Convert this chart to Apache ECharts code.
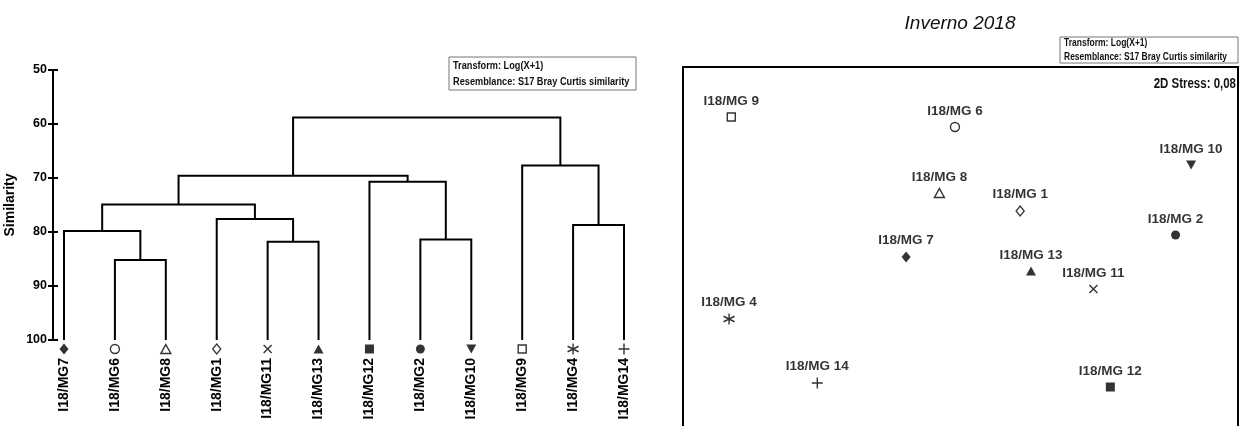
<!DOCTYPE html>
<html>
<head>
<meta charset="utf-8">
<script src="https://cdn.jsdelivr.net/npm/echarts@6/dist/echarts.min.js"></script>
<style>
  html, body { margin: 0; padding: 0; background: #fff; }
  #chart { width: 1239px; height: 426px; }
</style>
</head>
<body>
<div id="chart"></div>
<script>
// ---- Cluster dendrogram (group average, Bray-Curtis similarity) ----
const leafNames = ['I18/MG7', 'I18/MG6', 'I18/MG8', 'I18/MG1', 'I18/MG11', 'I18/MG13',
                   'I18/MG12', 'I18/MG2', 'I18/MG10', 'I18/MG9', 'I18/MG4', 'I18/MG14'];
const leafSamples = ['MG7', 'MG6', 'MG8', 'MG1', 'MG11', 'MG13', 'MG12', 'MG2', 'MG10', 'MG9', 'MG4', 'MG14'];
// node ids: 0..11 leaves, 12.. merged clusters in the order below
const mergeLeft  = [1, 0, 4, 3, 13, 7, 6, 16, 10, 9, 19];
const mergeRight = [2, 12, 5, 14, 15, 8, 17, 18, 11, 20, 21];
const mergeSimilarity = [85.2, 79.8, 81.8, 77.6, 74.9, 81.4, 70.7, 69.6, 78.7, 67.7, 58.8];
const similarityTicks = [50, 60, 70, 80, 90, 100];

// ---- nMDS ordination (2D) ----
const mdsLabels  = ['I18/MG 9', 'I18/MG 6', 'I18/MG 10', 'I18/MG 8', 'I18/MG 1', 'I18/MG 2',
                    'I18/MG 7', 'I18/MG 13', 'I18/MG 11', 'I18/MG 4', 'I18/MG 14', 'I18/MG 12'];
const mdsSamples = ['MG9', 'MG6', 'MG10', 'MG8', 'MG1', 'MG2', 'MG7', 'MG13', 'MG11', 'MG4', 'MG14', 'MG12'];
const mdsX = [-0.826, -0.020, 0.831, -0.076, 0.215, 0.775, -0.196, 0.254, 0.479, -0.834, -0.516, 0.540];
const mdsY = [0.750, 0.700, 0.510, 0.370, 0.280, 0.160, 0.050, -0.020, -0.110, -0.260, -0.580, -0.600];

const titleText = 'Inverno 2018';
const stressText = '2D Stress: 0,08';
const infoLines = ['Transform: Log(X+1)', 'Resemblance: S17 Bray Curtis similarity'];

// ---- marker styles per sample ----
const FONT = "'Liberation Sans', Arial, sans-serif";
const P_CROSS = 'path://M0,0L10,10M10,0L0,10';
const P_PLUS = 'path://M5,0L5,10M0,5L10,5';
const P_STAR = 'path://M5,0L5,10M0.67,2.5L9.33,7.5M0.67,7.5L9.33,2.5';
const filled = { color: '#000', borderColor: '#000', borderWidth: 0 };
const open = { color: '#fff', borderColor: '#000', borderWidth: 1.4 };
const stroke = { color: 'rgba(0,0,0,0)', borderColor: '#000', borderWidth: 1.4 };
const markerStyle = {
  MG1:  { symbol: 'diamond', size: [8, 10], style: open },
  MG2:  { symbol: 'circle', size: 9, style: filled },
  MG4:  { symbol: P_STAR, size: 11, style: stroke },
  MG6:  { symbol: 'circle', size: 9, style: open },
  MG7:  { symbol: 'diamond', size: [9, 11], style: filled },
  MG8:  { symbol: 'triangle', size: [10, 9], style: open },
  MG9:  { symbol: 'rect', size: 8, style: open },
  MG10: { symbol: 'triangle', size: [10, 9], style: filled, rotate: 180 },
  MG11: { symbol: P_CROSS, size: 8, style: stroke },
  MG12: { symbol: 'rect', size: 9, style: filled },
  MG13: { symbol: 'triangle', size: [10, 9], style: filled },
  MG14: { symbol: P_PLUS, size: 11, style: stroke }
};

// ---- dendrogram geometry from the merge table ----
const nodeX = leafNames.map((_, i) => i);
const nodeH = leafNames.map(() => 100);
const branches = [];
mergeLeft.forEach((l, k) => {
  const r = mergeRight[k];
  const h = mergeSimilarity[k];
  branches.push({ coords: [[nodeX[l], nodeH[l]], [nodeX[l], h], [nodeX[r], h], [nodeX[r], nodeH[r]]] });
  nodeX.push((nodeX[l] + nodeX[r]) / 2);
  nodeH.push(h);
});

function pointItem(sample, value) {
  const m = markerStyle[sample];
  return {
    value: value,
    symbol: m.symbol,
    symbolSize: m.size,
    symbolRotate: m.rotate || 0,
    itemStyle: m.style
  };
}

const leafMarkers = leafSamples.map((s, i) => pointItem(s, [i, 100]));
const mdsPoints = mdsSamples.map((s, i) => {
  const it = pointItem(s, [mdsX[i], mdsY[i]]);
  it.name = mdsLabels[i];
  return it;
});

// boxed note with the transformation / resemblance settings
function infoBox(x, y, w, h, fontSize, firstY, lineGap, squeeze) {
  const line = (txt, cy) => ({
    type: 'text', x: 4, y: cy, scaleX: squeeze,
    style: { text: txt, fill: '#111', font: 'bold ' + fontSize + 'px ' + FONT,
             align: 'left', verticalAlign: 'middle' }
  });
  return {
    type: 'group', x: x, y: y,
    children: [
      { type: 'rect', shape: { x: 0, y: 0, width: w, height: h },
        style: { fill: '#fff', stroke: '#777', lineWidth: 1 } },
      line(infoLines[0], firstY),
      line(infoLines[1], firstY + lineGap)
    ]
  };
}

const axisBase = {
  type: 'value', gridIndex: 0, position: 'left', inverse: true,
  min: 50, max: 100, interval: 10, offset: 11,
  splitLine: { show: false },
  axisLine: { show: true, onZero: false, lineStyle: { color: '#000', width: 2 } }
};

const option = {
  animation: false,
  backgroundColor: '#fff',
  grid: [
    { left: 64, top: 70, width: 560, height: 270, outerBoundsMode: 'none', containLabel: false },
    { left: 683, top: 67, width: 555, height: 400, outerBoundsMode: 'none', containLabel: false,
      show: true, borderColor: '#000', borderWidth: 2, backgroundColor: 'transparent' }
  ],
  xAxis: [
    { type: 'value', gridIndex: 0, min: 0, max: 11, show: false },
    { type: 'category', gridIndex: 0, position: 'bottom', boundaryGap: false, data: leafNames,
      axisLine: { show: false, onZero: false }, axisTick: { show: false },
      axisLabel: { interval: 0, rotate: 90, margin: 18, color: '#000',
                   fontFamily: FONT, fontWeight: 'bold', fontSize: 14 } },
    { type: 'value', gridIndex: 1, min: -1, max: 1, show: false }
  ],
  yAxis: [
    Object.assign({}, axisBase, {
      name: 'Similarity', nameLocation: 'middle', nameRotate: 90, nameGap: 36,
      nameTextStyle: { color: '#000', fontFamily: FONT, fontWeight: 'bold', fontSize: 14 },
      axisTick: { show: true, length: 5, lineStyle: { color: '#000', width: 2 } },
      axisLabel: { margin: 6, color: '#000', fontFamily: FONT, fontWeight: 'bold', fontSize: 12.5,
                   formatter: v => similarityTicks.includes(v) ? String(v) : '' }
    }),
    Object.assign({}, axisBase, {
      axisTick: { show: true, inside: true, length: 5, lineStyle: { color: '#000', width: 2 } },
      axisLabel: { show: false }
    }),
    { type: 'value', gridIndex: 1, min: -1, max: 1, show: false }
  ],
  series: [
    { type: 'lines', coordinateSystem: 'cartesian2d', xAxisIndex: 0, yAxisIndex: 0,
      polyline: true, silent: true, data: branches,
      lineStyle: { color: '#000', width: 2, opacity: 1 } },
    { type: 'scatter', xAxisIndex: 0, yAxisIndex: 0, clip: false, silent: true,
      symbolOffset: [0, 9], data: leafMarkers },
    { type: 'scatter', xAxisIndex: 2, yAxisIndex: 2, clip: false, silent: true, data: mdsPoints,
      label: { show: true, position: 'top', distance: 4, formatter: p => p.name, color: '#000',
               fontFamily: FONT, fontWeight: 'bold', fontSize: 13.5 } }
  ],
  graphic: [
    infoBox(449, 57, 187, 33, 11.5, 9, 16, 0.8),
    infoBox(1060, 37, 178, 26, 10.5, 6, 14, 0.81),
    { type: 'text', x: 960, y: 24,
      style: { text: titleText, fill: '#111', font: 'italic 19px ' + FONT,
               align: 'center', verticalAlign: 'middle' } },
    { type: 'text', x: 1236, y: 84, scaleX: 0.82,
      style: { text: stressText, fill: '#111', font: 'bold 14px ' + FONT,
               align: 'right', verticalAlign: 'middle' } }
  ]
};

const chart = echarts.init(document.getElementById('chart'), null, { renderer: 'canvas' });
chart.setOption(option);
</script>
</body>
</html>
